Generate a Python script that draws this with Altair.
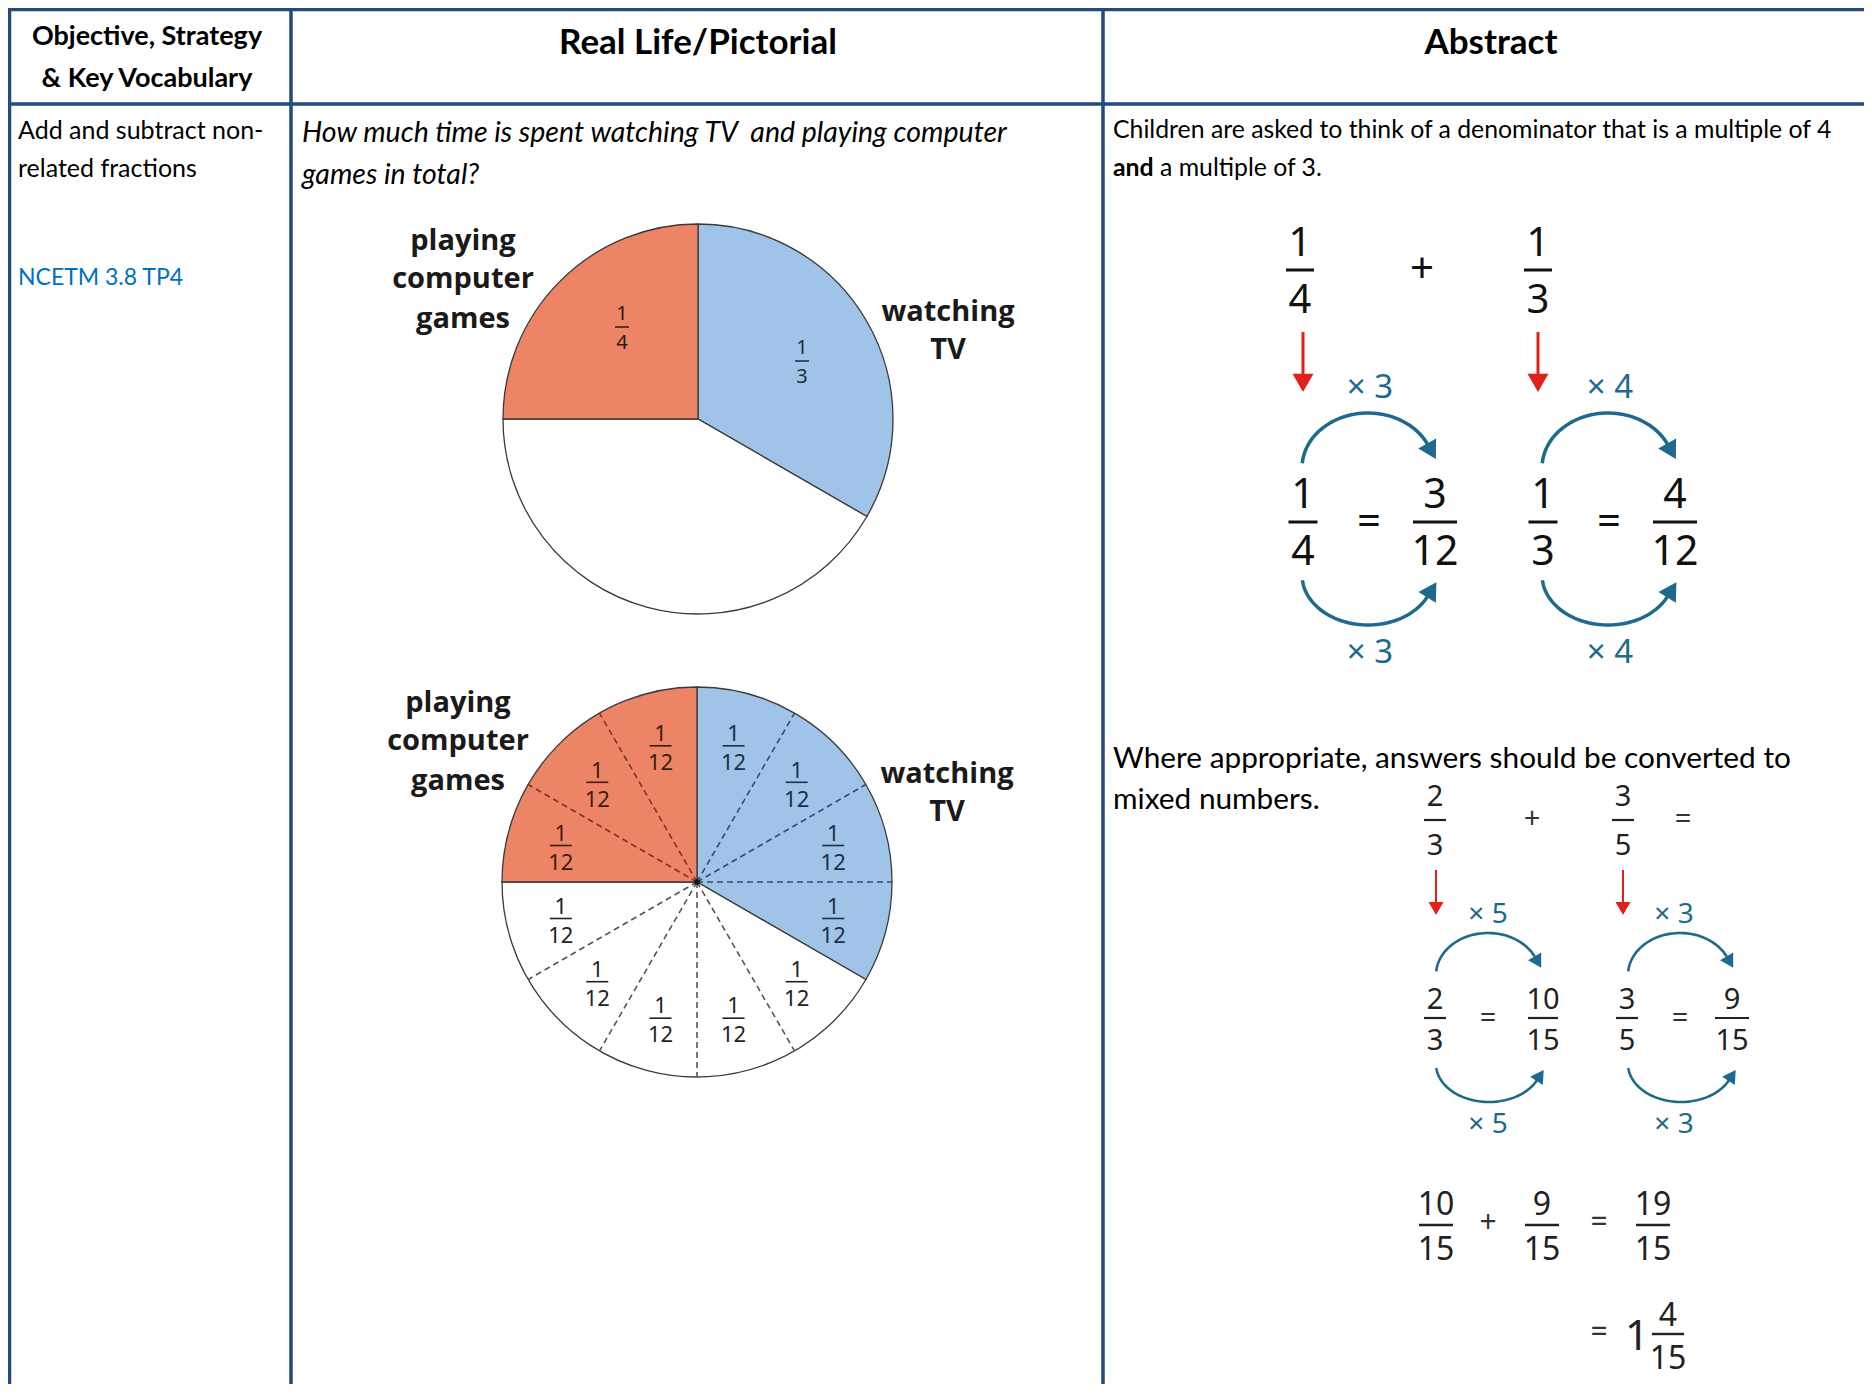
import math
import numpy as np
import pandas as pd
import altair as alt

# ---------------- content ----------------
header_labels = ["Objective, Strategy", "& Key Vocabulary", "Real Life/Pictorial", "Abstract"]
objective_lines = ["Add and subtract non-", "related fractions"]
reference_label = "NCETM 3.8 TP4"
question_lines = ["How much time is spent watching TV \u00a0and playing computer", "games in total?"]
abstract_line = "Children are asked to think of a denominator that is a multiple of 4"
abstract_bold = "and"
abstract_tail = "a multiple of 3."
mixed_lines = ["Where appropriate, answers should be converted to", "mixed numbers."]

pie_parts = ["watching TV", "rest of the time", "playing computer games"]
pie_twelfths = [4, 5, 3]            # clockwise from 12 o'clock
pie_fills = ["#9FC4E8", "#FFFFFF", "#EE8466"]
games_label = ["playing", "computer", "games"]
tv_label = ["watching", "TV"]
pie1_fracs = [(1, 3), (1, 4)]       # watching TV, playing games
pie2_unit = (1, 12)

ex1_fracs = [(1, 4), (1, 3)]
ex1_mult = [3, 4]
ex2_fracs = [(2, 3), (3, 5)]
ex2_mult = [5, 3]
ex2_total = (19, 15)
ex2_mixed = (1, 4, 15)

# ---------------- layout / styles ----------------
W, H = 1856, 1376
X0 = Y0 = 8
xs = alt.Scale(domain=[X0, X0 + W], nice=False, zero=False)
ys = alt.Scale(domain=[Y0, Y0 + H], nice=False, zero=False, reverse=True)


def X(f):
    return alt.X(f, type="quantitative", scale=xs, axis=None)


def Y(f):
    return alt.Y(f, type="quantitative", scale=ys, axis=None)


NAVY = "#244A7C"
TEAL = "#1D6A8D"
RED = "#E0201B"
BLUE_TXT = "#0070C0"
TXT = "Lato"
DIG = "Noto Sans"
LAB = "Open Sans"

texts = []
bars = []
curves = []
heads = []


def put(text, x, y, size, font=TXT, weight="normal", style="normal", color="#000000", align="center"):
    texts.append(dict(text=text, x=x, y=y, size=size, font=font, weight=weight,
                      style=style, color=color, align=align))


def frac(xc, yb, num, den, size, up, down, half, color="#111111", bw=2.5):
    adj = 0.057 * size
    put(str(num), xc, yb - up + adj, size, font=DIG, color=color)
    put(str(den), xc, yb + down + adj, size, font=DIG, color=color)
    bars.append(dict(x=xc - half, x2=xc + half, y=yb, y2=yb, color=color, w=bw))


def curved_arrow(cid, cx, cy, rx, ry, t0, t1, over, width, hsize, color=TEAL):
    ts = np.radians(np.linspace(t0, t1, 48))
    for i, t in enumerate(ts):
        yy = cy - ry * math.sin(t) if over else cy + ry * math.sin(t)
        curves.append(dict(id=cid, i=i, x=cx + rx * math.cos(t), y=yy, color=color, w=width))
    t = ts[-1]
    ex = cx + rx * math.cos(t)
    ey = cy - ry * math.sin(t) if over else cy + ry * math.sin(t)
    dx = rx * math.sin(t)
    dy = ry * math.cos(t) if over else -ry * math.cos(t)
    n = math.hypot(dx, dy)
    dx, dy = dx / n, dy / n
    h = 0.866 * math.sqrt(hsize) / 2
    ang = math.degrees(math.atan2(dx, -dy)) % 360
    heads.append(dict(x=ex + dx * h * 0.85, y=ey + dy * h * 0.85, angle=ang, size=hsize, color=color))


def straight_arrow(x, y1, y2, width, hsize, color=RED):
    h = 0.866 * math.sqrt(hsize) / 2
    bars.append(dict(x=x, x2=x, y=y1, y2=y2 - 2 * h + 2, color=color, w=width))
    heads.append(dict(x=x, y=y2 - h, angle=180, size=hsize, color=color))


# ---- table texts ----
put(header_labels[0], 147, 37, 27, weight="bold")
put(header_labels[1], 147, 79, 27, weight="bold")
put(header_labels[2], 698, 43, 35, weight="bold")
put(header_labels[3], 1491, 43, 35, weight="bold")
put(objective_lines[0], 18, 131, 25, align="left")
put(objective_lines[1], 18, 169, 25, align="left")
put(reference_label, 18, 278, 23, align="left", color=BLUE_TXT)
put(question_lines[0], 302, 133, 28.5, style="italic", align="left")
put(question_lines[1], 302, 175, 28.5, style="italic", align="left")
put(abstract_line, 1113, 131, 24.8, align="left")
put(abstract_bold, 1113, 169, 24.8, weight="bold", align="left")
put(abstract_tail, 1160, 169, 24.8, align="left")
put(mixed_lines[0], 1113, 759, 29.8, align="left")
put(mixed_lines[1], 1113, 800, 29.8, align="left")

# ---- pies ----
pie_centers = [(698, 419), (697, 882)]
R = 195
pies = []
for pi, (cx, cy) in enumerate(pie_centers):
    cum = 0
    for part, n, fill in zip(pie_parts, pie_twelfths, pie_fills):
        pies.append(dict(pie=pi, part=part, cx=cx, cy=cy,
                         t0=cum / 12 * 2 * math.pi, t1=(cum + n) / 12 * 2 * math.pi, fill=fill))
        cum += n
pies = pd.DataFrame(pies)

# pie labels
for k, (cx, cy) in enumerate(pie_centers):
    gy = [241, 279, 319] if k == 0 else [703, 741, 781]
    ty = [312, 350] if k == 0 else [774, 812]
    gx = 463 if k == 0 else 458
    tx = 948 if k == 0 else 947
    for s, yy in zip(games_label, gy):
        put(s, gx, yy, 29, font=LAB, weight="bold", color="#1a1a1a")
    for s, yy in zip(tv_label, ty):
        put(s, tx, yy, 29, font=LAB, weight="bold", color="#1a1a1a")

# pie 1 fractions
frac(802, 361, pie1_fracs[0][0], pie1_fracs[0][1], 20, 14, 15, 7, color="#1c2c40", bw=1.5)
frac(622, 327, pie1_fracs[1][0], pie1_fracs[1][1], 20, 14, 15, 7, color="#2b1a14", bw=1.5)

# pie 2 twelfths
cx2, cy2 = pie_centers[1]
bounds = np.cumsum([0] + pie_twelfths)  # 0,4,9,12
dashes = []
for k in range(12):
    region = 0 if k < bounds[1] else (1 if k < bounds[2] else 2)
    col = ["#1b2f47", "#222222", "#3d1d12"][region]
    a = math.radians(15 + 30 * k)
    frac(cx2 + 141 * math.sin(a), cy2 - 141 * math.cos(a), pie2_unit[0], pie2_unit[1], 22, 13, 16, 11,
         color=col, bw=1.6)
    if k not in bounds:
        b = math.radians(30 * k)
        dcol = ["#2f4f73", "#555555", "#7a3626"][0 if k < bounds[1] else (1 if k < bounds[2] else 2)]
        dashes.append(dict(x=cx2, y=cy2, x2=cx2 + R * math.sin(b), y2=cy2 - R * math.cos(b), color=dcol))
dashes = pd.DataFrame(dashes)

# ---- abstract example 1 : 1/4 + 1/3 ----
cols1 = [1300, 1538]
frac(cols1[0], 270, ex1_fracs[0][0], ex1_fracs[0][1], 40, 28, 29, 14, bw=3)
put("+", 1422, 270, 42, font=DIG, color="#111111")
frac(cols1[1], 270, ex1_fracs[1][0], ex1_fracs[1][1], 40, 28, 29, 14, bw=3)
for j, (n, d) in enumerate(ex1_fracs):
    m = ex1_mult[j]
    off = 240 * j
    straight_arrow(1303 + off - (0 if j == 0 else 5), 332, 392, 3, 441)
    put("\u00d7 " + str(m), 1370 + off, 388, 33, font=DIG, color=TEAL)
    put("\u00d7 " + str(m), 1370 + off, 653, 33, font=DIG, color=TEAL)
    frac(1303 + off, 522, n, d, 41, 28, 29, 14.5, bw=3)
    put("=", 1369 + off, 522, 42, font=DIG, color="#111111")
    frac(1435 + off, 522, n * m, d * m, 41, 28, 29, 22, bw=3)
    curved_arrow("u%d" % j, 1368 + off, 468, 66, 55, 175, 25, True, 3.5, 420)
    curved_arrow("l%d" % j, 1368 + off, 575, 66, 50, 174, 25, False, 3.5, 420)

# ---- abstract example 2 : 2/3 + 3/5 ----
frac(1435, 820, ex2_fracs[0][0], ex2_fracs[0][1], 29, 25, 24, 11, color="#222222", bw=2.2)
put("+", 1532, 819, 29, font=DIG, color="#333333")
frac(1623, 820, ex2_fracs[1][0], ex2_fracs[1][1], 29, 25, 24, 11, color="#222222", bw=2.2)
put("=", 1683, 819, 29, font=DIG, color="#333333")
xcols = [1435, 1627]
ecols = [1543, 1732]
for j, (n, d) in enumerate(ex2_fracs):
    m = ex2_mult[j]
    off = 192 * j
    straight_arrow(1436 + off - (0 if j == 0 else 5), 870, 915, 2, 225)
    put("\u00d7 " + str(m), 1488 + off - (0 if j == 0 else 6), 915, 28, font=DIG, color=TEAL)
    put("\u00d7 " + str(m), 1488 + off - (0 if j == 0 else 6), 1125, 28, font=DIG, color=TEAL)
    frac(xcols[j], 1018, n, d, 29, 20, 21, 11, color="#222222", bw=2.2)
    put("=", 1488 + off, 1018, 29, font=DIG, color="#333333")
    frac(ecols[j], 1018, n * m, d * m, 29, 20, 21, 15 if j == 0 else 17, color="#222222", bw=2.2)
    curved_arrow("bu%d" % j, 1488 + off, 975, 52, 42, 175, 25, True, 2.6, 230)
    curved_arrow("bl%d" % j, 1489 + off, 1064, 53, 38, 174, 25, False, 2.6, 230)

# sum line
(a_n, a_d), (b_n, b_d) = ex2_fracs
s1 = (a_n * ex2_mult[0], a_d * ex2_mult[0])
s2 = (b_n * ex2_mult[1], b_d * ex2_mult[1])
frac(1436, 1225, s1[0], s1[1], 32, 22, 23, 17, color="#222222", bw=2.4)
put("+", 1488, 1223, 30, font=DIG, color="#333333")
frac(1542, 1225, s2[0], s2[1], 32, 22, 23, 17, color="#222222", bw=2.4)
put("=", 1599, 1223, 30, font=DIG, color="#333333")
frac(1653, 1225, ex2_total[0], ex2_total[1], 32, 22, 23, 17, color="#222222", bw=2.4)
put("=", 1599, 1333, 30, font=DIG, color="#333333")
put(str(ex2_mixed[0]), 1637, 1337, 42, font=DIG, color="#222222")
frac(1668, 1334, ex2_mixed[1], ex2_mixed[2], 32, 20, 23, 16, color="#222222", bw=2.4)

# ---- table borders ----
borders = pd.DataFrame([
    dict(x=9.5, x2=9.5, y=8, y2=1400),
    dict(x=291, x2=291, y=8, y2=1400),
    dict(x=1103, x2=1103, y=8, y2=1400),
    dict(x=8, x2=1872, y=9.5, y2=9.5),
    dict(x=8, x2=1872, y=104, y2=104),
])

# ---------------- chart ----------------
layers = []
layers.append(alt.Chart(borders).mark_rule(color=NAVY, strokeWidth=3.5).encode(
    x=X("x"), x2="x2:Q", y=Y("y"), y2="y2:Q"))

layers.append(alt.Chart(pies).mark_arc(radius=R, stroke="#3a3a3a", strokeWidth=1.3).encode(
    x=X("cx"), y=Y("cy"),
    theta=alt.Theta("t0:Q", scale=None), theta2="t1:Q",
    color=alt.Color("fill:N", scale=None)))

layers.append(alt.Chart(dashes).mark_rule(strokeDash=[6, 4], strokeWidth=1.6).encode(
    x=X("x"), x2="x2:Q", y=Y("y"), y2="y2:Q", color=alt.Color("color:N", scale=None)))

layers.append(alt.Chart(pd.DataFrame([dict(x=cx2, y=cy2)])).mark_point(
    filled=True, color="#111111", size=30, opacity=1).encode(x=X("x"), y=Y("y")))

bars_df = pd.DataFrame(bars)
layers.append(alt.Chart(bars_df).mark_rule().encode(
    x=X("x"), x2="x2:Q", y=Y("y"), y2="y2:Q",
    color=alt.Color("color:N", scale=None),
    strokeWidth=alt.StrokeWidth("w:Q", scale=None)))

curves_df = pd.DataFrame(curves)
layers.append(alt.Chart(curves_df).mark_line(strokeCap="butt").encode(
    x=X("x"), y=Y("y"), detail="id:N", order="i:Q",
    color=alt.Color("color:N", scale=None),
    strokeWidth=alt.StrokeWidth("w:Q", scale=None)))

heads_df = pd.DataFrame(heads)
layers.append(alt.Chart(heads_df).mark_point(shape="triangle-up", filled=True, opacity=1, strokeWidth=0).encode(
    x=X("x"), y=Y("y"),
    angle=alt.Angle("angle:Q", scale=None),
    size=alt.Size("size:Q", scale=None),
    color=alt.Color("color:N", scale=None)))

tdf = pd.DataFrame(texts)
for (font, weight, style, align), g in tdf.groupby(["font", "weight", "style", "align"]):
    layers.append(alt.Chart(g.reset_index(drop=True)).mark_text(
        font=font, fontWeight=weight, fontStyle=style, align=align, baseline="middle").encode(
        x=X("x"), y=Y("y"), text="text:N",
        size=alt.Size("size:Q", scale=None),
        color=alt.Color("color:N", scale=None)))

chart = alt.layer(*layers).properties(
    width=W, height=H, autosize=alt.AutoSizeParams(type="none"), padding=0,
    background="white"
).configure_view(strokeWidth=0)

chart.save("out.html", embed_options={"renderer": "svg", "actions": False})
